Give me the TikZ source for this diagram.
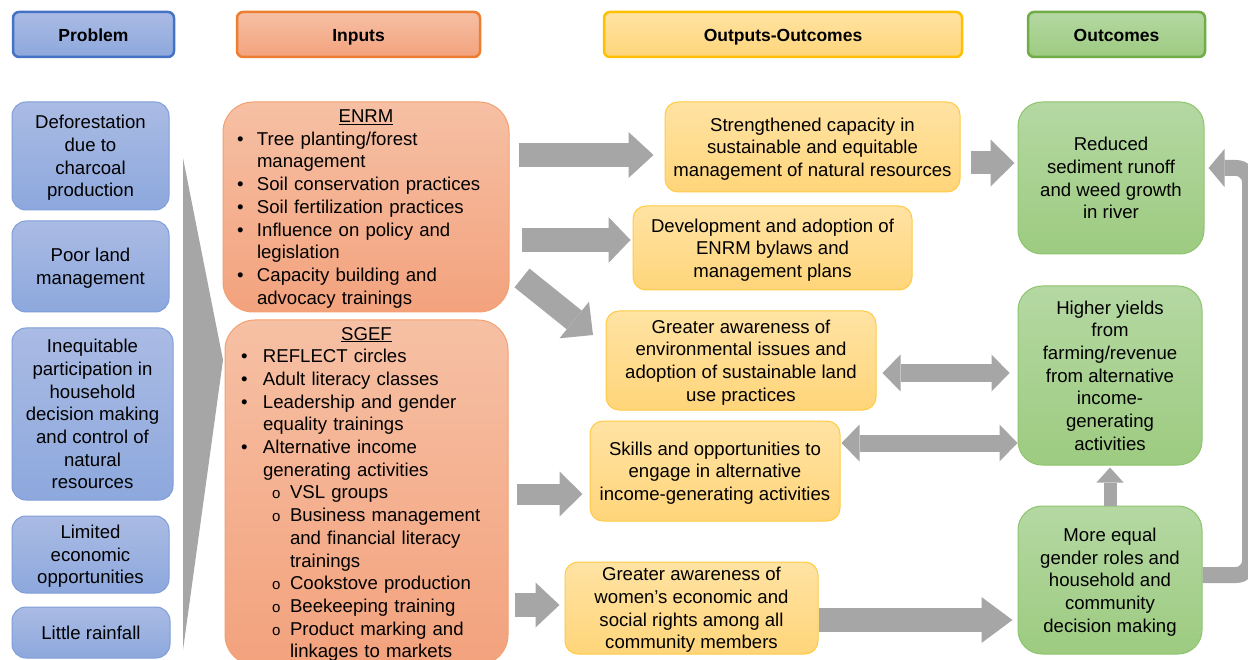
\documentclass[tikz,border=0pt]{standalone}
\usepackage{fontspec}
\setmainfont{Liberation Sans}
\usetikzlibrary{arrows.meta}
\definecolor{agray}{HTML}{A6A6A6}
\definecolor{bluetop}{HTML}{AABBE4}
\definecolor{bluebot}{HTML}{8DA8DD}
\definecolor{bluebd}{HTML}{7F9ED9}
\definecolor{bluehd}{HTML}{4472C4}
\definecolor{orgtop}{HTML}{F6C0A4}
\definecolor{orgbot}{HTML}{F3A27D}
\definecolor{orgbd}{HTML}{F3A070}
\definecolor{orghd}{HTML}{ED7D31}
\definecolor{yeltop}{HTML}{FFE3A3}
\definecolor{yelbot}{HTML}{FFD57A}
\definecolor{yelbd}{HTML}{FFCB45}
\definecolor{yelhd}{HTML}{FFC000}
\definecolor{grntop}{HTML}{B5D8A3}
\definecolor{grnbot}{HTML}{9DCB80}
\definecolor{grnbd}{HTML}{8EC46F}
\definecolor{grnhd}{HTML}{70AD47}
\newcommand\enbul{\makebox[24pt][l]{\hspace*{4pt}\textbullet}}
\newcommand\sgbul{\makebox[28pt][l]{\hspace*{6pt}\textbullet}}
\newcommand\sgsub{\makebox[55pt][l]{\hspace*{37pt}{\fontsize{15}{15}\selectfont o}}}
\begin{document}
\begin{tikzpicture}[x=1pt,y=1pt,
  font=\fontsize{18.6}{22.7}\selectfont,
  hdr/.style={rounded corners=6pt, line width=2.5pt, minimum height=45pt,
    font=\fontsize{17.5}{21}\selectfont\bfseries, inner sep=2pt, text height=14pt, text depth=0pt},
  probbox/.style={draw=bluebd, top color=bluetop, bottom color=bluebot,
    rounded corners=14pt, line width=1pt, align=center, inner sep=2pt, text depth=0pt},
  inbox/.style={draw=orgbd, top color=orgtop, bottom color=orgbot,
    rounded corners=30pt, line width=1pt, align=left, inner xsep=10pt, inner ysep=2pt},
  outbox/.style={draw=yelbd, top color=yeltop, bottom color=yelbot,
    rounded corners=13pt, line width=1pt, align=center, inner sep=2pt, text depth=0pt},
  grnbox/.style={draw=grnbd, top color=grntop, bottom color=grnbot,
    rounded corners=24pt, line width=1pt, align=center, inner sep=2pt, text depth=0pt},
  blk/.style={draw=agray, line width=24pt, -{Triangle[width=46pt,length=25pt,line width=0pt]}},
  dbl/.style={draw=agray, line width=17pt,
    {Triangle[width=37pt,length=18pt,line width=0pt]}-{Triangle[width=37pt,length=18pt,line width=0pt]}}
]
\useasboundingbox (0,0) rectangle (1248,-660);
\fill[white] (0,0) rectangle (1248,-660);

% headers
\node[hdr, draw=bluehd, top color=bluetop, bottom color=bluebot, minimum width=161pt] (hprob) at (93.5,-34.5) {Problem};
\node[hdr, draw=orghd, top color=orgtop, bottom color=orgbot, minimum width=243pt] (hin) at (358.5,-34.5) {Inputs};
\node[hdr, draw=yelhd, top color=yeltop, bottom color=yelbot, minimum width=358pt] (hout) at (783,-34.5) {Outputs-Outcomes};
\node[hdr, draw=grnhd, top color=grntop, bottom color=grnbot, minimum width=177pt] (hoc) at (1116.5,-34.5) {Outcomes};

% wedge
\fill[agray] (183,-158) -- (223,-360) -- (183,-650) -- cycle;

% problems
\node[probbox, minimum width=157pt, minimum height=108pt] (p1) at (90.5,-156) {Deforestation\\due to\\charcoal\\production};
\node[probbox, minimum width=157pt, minimum height=91pt] (p2) at (90.5,-266.5) {Poor land\\management};
\node[probbox, minimum width=161pt, minimum height=172pt] (p3) at (92.5,-414) {Inequitable\\participation in\\household\\decision making\\and control of\\natural\\resources};
\node[probbox, minimum width=157pt, minimum height=77pt] (p4) at (90.5,-554.5) {Limited\\economic\\opportunities};
\node[probbox, minimum width=158pt, minimum height=51pt] (p5) at (91,-632.5) {Little rainfall};

% inputs
\node[inbox, text width=266pt, minimum height=210pt, text depth=181.6pt] (enrm) at (366,-207) {%
\makebox[266pt][c]{\underline{ENRM}}\\
\enbul Tree planting/forest\\
\hspace*{24pt}management\\
\enbul Soil conservation practices\\
\enbul Soil fertilization practices\\
\enbul Influence on policy and\\
\hspace*{24pt}legislation\\
\enbul Capacity building and\\
\hspace*{24pt}advocacy trainings};
\node[inbox, text width=263pt, minimum height=345pt, text depth=317.8pt] (sgef) at (366.5,-492.5) {%
\makebox[263pt][c]{\underline{SGEF}}\\
\sgbul REFLECT circles\\
\sgbul Adult literacy classes\\
\sgbul Leadership and gender\\
\hspace*{28pt}equality trainings\\
\sgbul Alternative income\\
\hspace*{28pt}generating activities\\
\sgsub VSL groups\\
\sgsub Business management\\
\hspace*{55pt}and financial literacy\\
\hspace*{55pt}trainings\\
\sgsub Cookstove production\\
\sgsub Beekeeping training\\
\sgsub Product marking and\\
\hspace*{55pt}linkages to markets};

% outputs
\node[outbox, minimum width=295pt, minimum height=90pt] (o1) at (812.5,-147) {Strengthened capacity in\\sustainable and equitable\\management of natural resources};
\node[outbox, minimum width=279pt, minimum height=84pt] (o2) at (772.5,-248) {Development and adoption of\\ENRM bylaws and\\management plans};
\node[outbox, minimum width=270pt, minimum height=99pt] (o3) at (741,-360.5) {Greater awareness of\\environmental issues and\\adoption of sustainable land\\use practices};
\node[outbox, minimum width=250pt, minimum height=100pt] (o4) at (715,-471) {Skills and opportunities to\\engage in alternative\\income-generating activities};
\node[outbox, minimum width=253pt, minimum height=92pt] (o5) at (691.5,-608) {Greater awareness of\\women's economic and\\social rights among all\\community members};

% outcomes
\node[grnbox, minimum width=186pt, minimum height=152pt] (g1) at (1111,-178) {Reduced\\sediment runoff\\and weed growth\\in river};
\node[grnbox, minimum width=184pt, minimum height=179pt] (g2) at (1110,-375.5) {Higher yields\\from\\farming/revenue\\from alternative\\income-\\generating\\activities};
\node[grnbox, minimum width=184pt, minimum height=148pt] (g3) at (1110,-580) {More equal\\gender roles and\\household and\\community\\decision making};

% arrows
\draw[blk, shorten <=9pt, shorten >=11pt] (enrm.east |- 0,-155) -- (o1.west |- 0,-155);
\draw[blk, -{Triangle[width=46pt,length=22pt,line width=0pt]}, shorten <=12pt, shorten >=2pt] (enrm.east |- 0,-240) -- (o2.west |- 0,-240);
\coordinate (a3s) at (522,-278);
\coordinate (a3e) at (593,-335);
\draw[blk, -{Triangle[width=47pt,length=24pt,line width=0pt]}] (a3s) -- (a3e);
\draw[blk, line width=21pt, -{Triangle[width=45pt,length=23pt,line width=0pt]}, shorten <=8pt, shorten >=7pt] (sgef.east |- 0,-494) -- (o4.west |- 0,-494);
\draw[blk, -{Triangle[width=45pt,length=24pt,line width=0pt]}, shorten <=6pt, shorten >=5pt] (sgef.east |- 0,-605) -- (o5.west |- 0,-605);
\draw[blk, line width=23pt, -{Triangle[width=47pt,length=24pt,line width=0pt]}, shorten <=10pt, shorten >=3pt] (o1.east |- 0,-163) -- (g1.west |- 0,-163);
\draw[dbl, shorten <=6pt, shorten >=8pt] (o3.east |- 0,-373) -- (g2.west |- 0,-373);
\draw[dbl, shorten <=1pt] (o4.east |- 0,-443) -- (g2.west |- 0,-443);
\draw[draw=agray, line width=13pt, -{Triangle[width=27pt,length=15pt,line width=0pt]}, shorten >=2pt] (g3.north) -- (g2.south);
\draw[blk, -{Triangle[width=46pt,length=31pt,line width=0pt]}, shorten >=5pt] (o5.east |- 0,-620) -- (g3.west |- 0,-620);
\coordinate (r1) at (1250,-575);
\coordinate (r2) at (1250,-168);
\draw[draw=agray, line width=16pt, rounded corners=14pt, -{Triangle[width=38pt,length=16pt,line width=0pt]}, shorten >=4pt]
  (g3.east |- r1) -- (r1) -- (r2) -- (g1.east |- r2);
\end{tikzpicture}
\end{document}
